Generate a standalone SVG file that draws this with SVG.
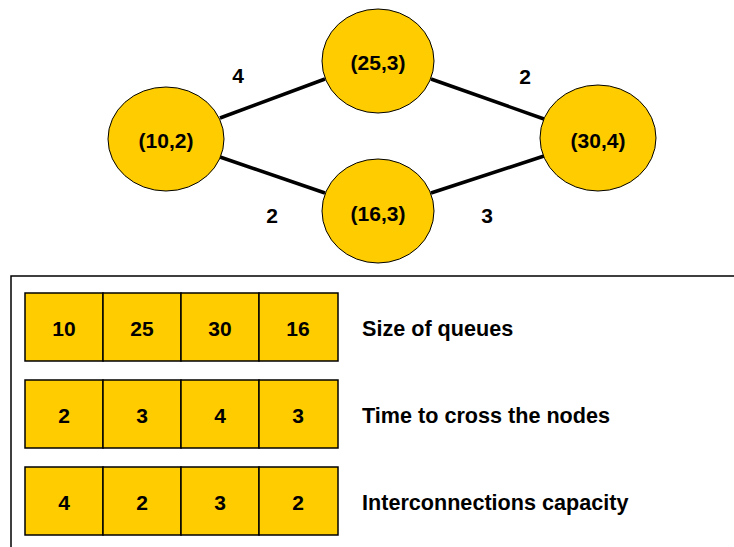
<svg xmlns="http://www.w3.org/2000/svg" width="734" height="547" viewBox="0 0 734 547">
<style>
.n{fill:#FFCC00;stroke:#000;stroke-width:1}
.c{fill:#FFCC00;stroke:#000;stroke-width:1.5}
.t{font-family:"Liberation Sans",Arial,sans-serif;font-weight:bold;font-size:21px;fill:#000;text-anchor:middle;dominant-baseline:central}
.l{font-family:"Liberation Sans",Arial,sans-serif;font-weight:bold;font-size:21.6px;fill:#000;dominant-baseline:central}
.e{stroke:#000;stroke-width:3.5;fill:none}
</style>
<rect width="734" height="547" fill="#fff"/>
<g id="connectors">
<line class="e" x1="220" y1="118" x2="325" y2="79"/>
<line class="e" x1="220" y1="157" x2="325" y2="193"/>
<line class="e" x1="431" y1="79" x2="544" y2="119"/>
<line class="e" x1="431" y1="193" x2="544" y2="156"/>
<text class="t" x="238" y="75">4</text>
<text class="t" x="272" y="215">2</text>
<text class="t" x="525" y="76">2</text>
<text class="t" x="487" y="215">3</text>
</g>
<g id="n10_2"><ellipse class="n" cx="166" cy="139" rx="58" ry="52"/><text class="t" x="166" y="140">(10,2)</text></g>
<g id="n25_3"><ellipse class="n" cx="378" cy="61" rx="56" ry="52"/><text class="t" x="378" y="62">(25,3)</text></g>
<g id="n16_3"><ellipse class="n" cx="378" cy="211" rx="56" ry="52"/><text class="t" x="378" y="213">(16,3)</text></g>
<g id="n30_4"><ellipse class="n" cx="598" cy="138" rx="58" ry="53"/><text class="t" x="598" y="140">(30,4)</text></g>
<g id="frame">
<path d="M11 547 V276 H734" fill="none" stroke="#000" stroke-width="1.5"/>
</g>
<g id="table1">
<rect class="c" x="25" y="293" width="78" height="68"/><rect class="c" x="103" y="293" width="78" height="68"/><rect class="c" x="181" y="293" width="78" height="68"/><rect class="c" x="259" y="293" width="79" height="68"/>
<text class="t" x="64" y="328">10</text><text class="t" x="142" y="328">25</text><text class="t" x="220" y="328">30</text><text class="t" x="298" y="328">16</text>
<text class="l" x="362" y="328">Size of queues</text>
</g>
<g id="table2">
<rect class="c" x="25" y="380" width="78" height="68"/><rect class="c" x="103" y="380" width="78" height="68"/><rect class="c" x="181" y="380" width="78" height="68"/><rect class="c" x="259" y="380" width="79" height="68"/>
<text class="t" x="64" y="415">2</text><text class="t" x="142" y="415">3</text><text class="t" x="220" y="415">4</text><text class="t" x="298" y="415">3</text>
<text class="l" x="362" y="415">Time to cross the nodes</text>
</g>
<g id="table3">
<rect class="c" x="25" y="467" width="78" height="68"/><rect class="c" x="103" y="467" width="78" height="68"/><rect class="c" x="181" y="467" width="78" height="68"/><rect class="c" x="259" y="467" width="79" height="68"/>
<text class="t" x="64" y="502">4</text><text class="t" x="142" y="502">2</text><text class="t" x="220" y="502">3</text><text class="t" x="298" y="502">2</text>
<text class="l" x="362" y="502">Interconnections capacity</text>
</g>
</svg>
